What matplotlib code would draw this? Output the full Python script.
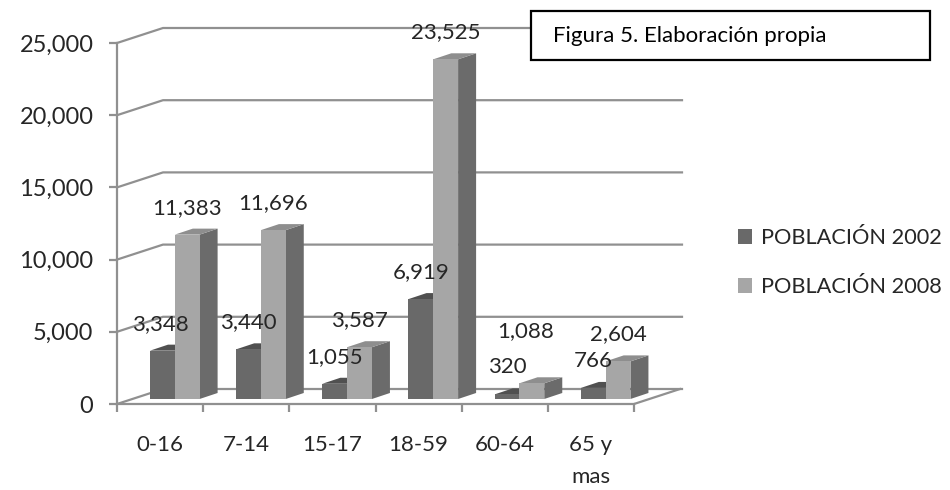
import matplotlib
matplotlib.use("Agg")
import matplotlib.pyplot as plt
from matplotlib.patches import Polygon, Patch, Rectangle

categories = ["0-16", "7-14", "15-17", "18-59", "60-64", "65 y\nmas"]
poblacion_2002 = [3348, 3440, 1055, 6919, 320, 766]
poblacion_2008 = [11383, 11696, 3587, 23525, 1088, 2604]
series_names = ["POBLACIÓN 2002", "POBLACIÓN 2008"]
y_ticks = [0, 5000, 10000, 15000, 20000, 25000]
caption = "Figura 5. Elaboración propia"

plt.rcParams['font.family'] = ['Lato', 'DejaVu Sans']
W, H = 950, 490
fig = plt.figure(figsize=(W / 100, H / 100), dpi=100)
L, R, T, B = 117, 634, 43, 404
ax = fig.add_axes([L / W, 1 - B / H, (R - L) / W, (B - T) / H])
ax.set_xlim(0, len(categories))
ax.set_ylim(0, 25000)
ax.patch.set_alpha(0)

px_x = len(categories) / (R - L)
px_y = 25000 / (B - T)
grid_c = "#909090"
wall_dx, wall_dy = 46 * px_x, 15 * px_y
for v in y_ticks:
    ax.plot([0, wall_dx, len(categories) + wall_dx + 2 * px_x], [v, v + wall_dy, v + wall_dy],
            color=grid_c, lw=1.6, clip_on=False, zorder=1, solid_joinstyle="miter")
ax.plot([len(categories), len(categories) + wall_dx], [0, wall_dy], color=grid_c, lw=1.6,
        clip_on=False, zorder=1)

dark = ("#696969", "#505050", "#5c5c5c")
light = ("#a6a6a6", "#8e8e8e", "#6b6b6b")
bar_w = 24.8 * px_x
depth_x, depth_y = 18 * px_x, 6 * px_y
base = 5 * px_y
start = 33 * px_x


def bar3d(x0, value, cols, z):
    x1 = x0 + bar_w
    y0, y1 = base, base + value
    ax.add_patch(Polygon([(x1, y0), (x1 + depth_x, y0 + depth_y), (x1 + depth_x, y1 + depth_y), (x1, y1)],
                         fc=cols[2], ec="none", zorder=z, clip_on=False))
    ax.add_patch(Polygon([(x0, y1), (x1, y1), (x1 + depth_x, y1 + depth_y), (x0 + depth_x, y1 + depth_y)],
                         fc=cols[1], ec="none", zorder=z, clip_on=False))
    ax.add_patch(Rectangle((x0, y0), bar_w, value, fc=cols[0], ec="none", zorder=z + 0.1, clip_on=False))


txt_c = "#262626"
label_nudge = {1088: (-6, 25), 3348: (-2, 0)}
for i, (a, b) in enumerate(zip(poblacion_2002, poblacion_2008)):
    x0 = i + start
    bar3d(x0, a, dark, 2 + i)
    bar3d(x0 + bar_w, b, light, 2.3 + i)
    for xx, val in ((x0, a), (x0 + bar_w, b)):
        nx, ny = label_nudge.get(val, (0, 0))
        ax.annotate(f"{val:,}", (xx + bar_w / 2, base + val),
                    xytext=(nx * 0.72, (27 + ny) * 0.72), textcoords="offset points",
                    ha="center", va="center", fontsize=16, color=txt_c, zorder=20, annotation_clip=False)

for s in ("top", "right"):
    ax.spines[s].set_visible(False)
for s in ("left", "bottom"):
    ax.spines[s].set_color(grid_c)
    ax.spines[s].set_linewidth(1.6)
ax.set_yticks(y_ticks)
ax.set_yticklabels([f"{v:,}" for v in y_ticks], fontsize=17, color=txt_c)
ax.set_xticks(range(len(categories) + 1))
ax.set_xticklabels([])
ax.set_xticks([i + 0.5 for i in range(len(categories))], minor=True)
ax.set_xticklabels(categories, minor=True, fontsize=16, color=txt_c, linespacing=1.8)
ax.tick_params(axis="both", which="major", color=grid_c, width=1.6, length=6)
ax.tick_params(axis="y", pad=11)
ax.tick_params(axis="x", which="minor", length=0, pad=22)

handles = [Patch(fc=dark[0]), Patch(fc=light[0])]
fig.legend(handles, series_names, loc="center left", bbox_to_anchor=(738 / W, 1 - 262.5 / H), frameon=False,
           fontsize=15.7, handlelength=0.65, handleheight=0.65, handletextpad=0.4, labelspacing=1.33,
           borderpad=0, borderaxespad=0, labelcolor=txt_c)

fig.add_artist(Rectangle((531 / W, 1 - 60 / H), 399 / W, 49 / H, transform=fig.transFigure,
                         fc="white", ec="black", lw=1.6, zorder=30))
fig.text(553 / W, 1 - 36 / H, caption, fontsize=16, color="black", va="center", zorder=31)

fig.savefig("out.png", dpi=100)
